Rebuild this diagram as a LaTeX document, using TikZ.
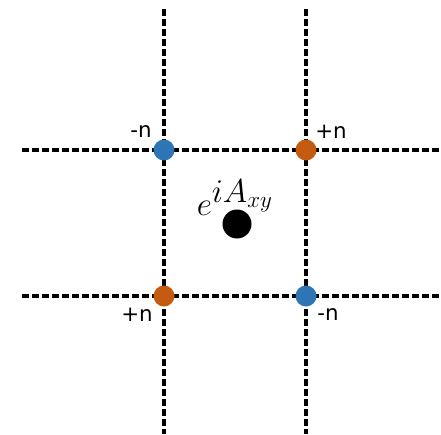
\documentclass[tikz,border=0pt]{standalone}
\usepackage{fontspec}
\usepackage{amsmath}
\newfontfamily\labelfont{DejaVu Sans}
\definecolor{siteblue}{RGB}{46,117,182}
\definecolor{siteorange}{RGB}{197,90,17}

\begin{document}
\begin{tikzpicture}[x=0.75pt, y=-0.75pt,
    every node/.style={inner sep=0pt},
    bond/.style={line width=2.6pt, dash pattern=on 5.25pt off 2.25pt},
    site/.style={circle, fill=#1, minimum size=15.75pt},
    tag/.style={font=\labelfont\fontsize{16}{18}\selectfont}]
  \useasboundingbox (0,0) rectangle (441,434);

  % Line end points
  \coordinate (v1top) at (164, 9);
  \coordinate (v1bot) at (164, 434);
  \coordinate (v2top) at (306, 9);
  \coordinate (v2bot) at (306, 434);
  \coordinate (h1left) at (22, 150);
  \coordinate (h1right) at (441, 150);
  \coordinate (h2left) at (22, 296);
  \coordinate (h2right) at (441, 296);

  % Dashed lattice lines
  \draw[bond] (v1top) -- (v1bot);
  \draw[bond] (v2top) -- (v2bot);
  \draw[bond] (h1left) -- (h1right);
  \draw[bond] (h2left) -- (h2right);

  % Sites
  \node[site=siteblue] (tl) at (164, 150) {};
  \node[site=siteorange] (tr) at (306, 150) {};
  \node[site=siteorange] (bl) at (164, 296) {};
  \node[site=siteblue] (br) at (306, 296) {};

  % Plaquette centre
  \node[circle, fill=black, minimum size=21.75pt] (centre) at (237, 224) {};
  \node[font=\fontsize{33}{36}\selectfont] (phase) at (235, 198) {$e^{iA_{xy}}$};

  % Charges
  \node[tag] (tllabel) at (141, 132) {-n};
  \node[tag] (trlabel) at (331, 132) {+n};
  \node[tag] (bllabel) at (137, 315) {+n};
  \node[tag] (brlabel) at (328, 315) {-n};
\end{tikzpicture}
\end{document}
